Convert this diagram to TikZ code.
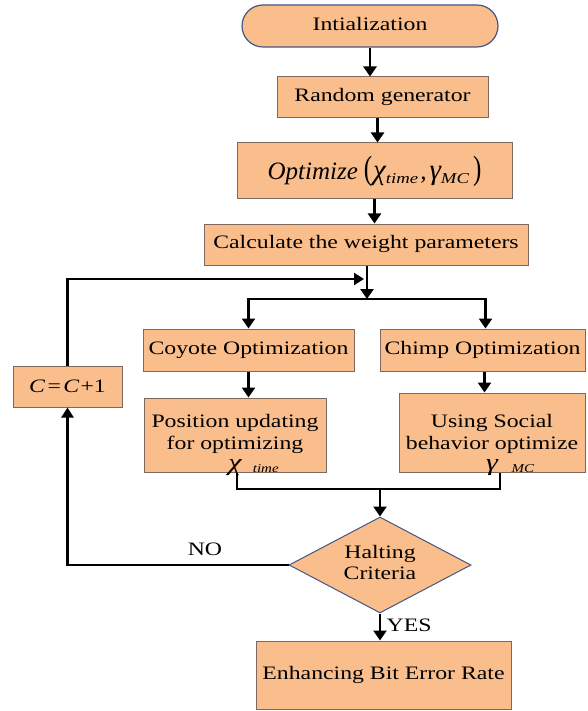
\documentclass[tikz,border=0pt]{standalone}
\usepackage{fontspec}
\setmainfont{Liberation Serif}
\usepackage{graphicx}
\usetikzlibrary{arrows.meta,shapes.geometric,calc}
\definecolor{peach}{RGB}{250,190,140}
\definecolor{bevel}{RGB}{125,105,95}
\definecolor{slate}{RGB}{70,85,130}
\newcommand{\stx}[1]{\scalebox{1.25}[1]{\begin{tabular}{@{}c@{}}#1\end{tabular}}}
\newcommand{\stxt}[1]{\scalebox{1.25}[1]{\begin{tabular}[t]{@{}c@{}}#1\end{tabular}}}
\begin{document}
\begin{tikzpicture}[x=1pt,y=-1pt,
  font=\fontsize{19}{22}\selectfont,
  box/.style={draw=bevel, line width=1pt, fill=peach, inner sep=0pt, anchor=center},
  arr/.style={line width=2.8pt, -{Triangle[length=10pt,width=13pt]}},
  ln/.style={line width=2.8pt},
  thinarr/.style={line width=2.2pt, -{Triangle[length=10pt,width=12pt]}}]
\useasboundingbox (0,0) rectangle (588,711);

\node[box, draw=slate, line width=1.2pt, rounded corners=21pt, minimum width=256pt, minimum height=42pt] (init) at (370,26) {\stx{Intialization}};
\node[box, minimum width=211pt, minimum height=41pt] (rand) at (382.5,97.5) {\stx{Random generator}};
\node[box, minimum width=275pt, minimum height=56pt] (opt) at (374.5,171)
  {\fontsize{25}{30}\selectfont\itshape Optimize\kern6pt\scalebox{1}[1.35]{\upshape(}\kern1pt{\fontsize{29}{30}\selectfont χ}\raisebox{-4pt}{\fontsize{15}{15}\selectfont\scalebox{1.25}[1]{time}}\kern2pt,\kern3pt{\fontsize{29}{30}\selectfont γ}\raisebox{-4pt}{\fontsize{15}{15}\selectfont\scalebox{1.25}[1]{MC}}\kern4pt\scalebox{1}[1.35]{\upshape)}};
\node[box, minimum width=324pt, minimum height=41pt] (calc) at (366,244.5) {\stx{Calculate the weight parameters}};
\node[box, minimum width=211pt, minimum height=42pt] (coy) at (248.5,350) {\stx{Coyote Optimization}};
\node[box, minimum width=205pt, minimum height=42pt] (chimp) at (482.5,350) {\stx{Chimp Optimization}};
\node[box, minimum width=182pt, minimum height=74pt] (pos) at (235,435) {};
\node[anchor=base, inner sep=0pt] (posT) at (235,427)
  {\stxt{Position updating\\for optimizing\\[-1pt]{\fontsize{24}{24}\selectfont\itshape χ}\rlap{\hspace{9pt}\raisebox{-2pt}{\fontsize{12}{12}\selectfont\itshape time}}}};
\node[box, minimum width=186pt, minimum height=79pt] (using) at (492,432.5) {};
\node[anchor=base, inner sep=0pt] (usingT) at (492,427)
  {\stxt{Using Social\\behavior optimize\\[-1pt]{\fontsize{24}{24}\selectfont\itshape γ}\rlap{\hspace{11pt}\raisebox{-2pt}{\fontsize{12}{12}\selectfont\itshape MC}}}};
\node[box, minimum width=109pt, minimum height=41pt] (cc) at (67.5,386.5)
  {\scalebox{1.25}[1]{\itshape C\kern2pt\upshape=\kern2pt\itshape C\kern1pt\upshape+1}};
\node[box, diamond, draw=slate, line width=1pt, aspect=1.9, minimum width=182pt, minimum height=96pt] (halt) at (380,565) {\stx{Halting\\[-1pt]Criteria}};
\node[box, minimum width=255pt, minimum height=68pt] (enh) at (383.5,675) {\stx{Enhancing Bit Error Rate}};

\draw[arr] (init.south) -- (init.south |- rand.north);
\draw[arr] ([xshift=3pt]rand.south -| opt.north) -- ([xshift=3pt]opt.north);
\draw[arr] (opt.south) -- (opt.south |- calc.north);
\coordinate (j) at (367,299);
\draw[arr] (calc.south -| j) -- (j);
\draw[arr] (j) -| (coy.north);
\draw[arr] (j) -| ([xshift=3pt]chimp.north);
\draw[arr] (coy.south) -- (coy.south |- pos.north);
\draw[arr] ([xshift=2pt]chimp.south) -- ([xshift=2pt]chimp.south |- using.north);
\coordinate (m) at (380,489);
\draw[ln] ([xshift=2pt]pos.south) |- (m) -| ([xshift=8pt]using.south);
\draw[arr] (m) -- (halt.north);
\draw[arr] (halt.south) -- (halt.south |- enh.north) node[midway, right, xshift=2pt] (yes) {\stx{YES}};
\draw[thinarr] (halt.west) -| (cc.south);
\node (no) at (205,551) {\stx{NO}};
\coordinate (fb) at (364,279);
\draw[thinarr] (cc.north) |- (fb);
\end{tikzpicture}
\end{document}
